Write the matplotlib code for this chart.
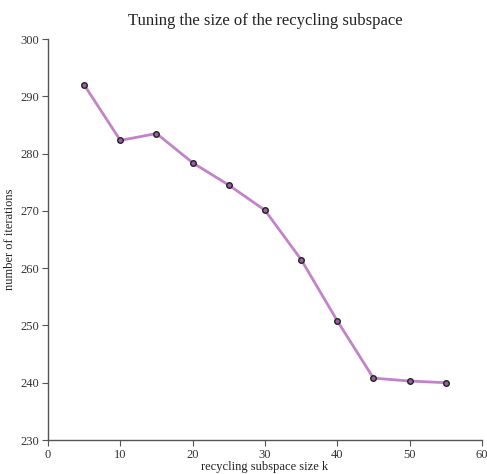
import matplotlib
matplotlib.use("Agg")
import matplotlib.pyplot as plt

plt.rcParams['font.family'] = ['Liberation Serif', 'DejaVu Serif']

k_values = [5, 10, 15, 20, 25, 30, 35, 40, 45, 50, 55]
iterations = [292.0, 282.3, 283.5, 278.4, 274.5, 270.1, 261.5, 250.8, 240.8, 240.3, 240.0]

fig = plt.figure(figsize=(4.87, 4.74), dpi=100)
ax = fig.add_axes([0.0986, 0.0717, 0.891, 0.846])

ax.plot(k_values, iterations, color='#c283c8', linewidth=2, zorder=2)
ax.plot(k_values, iterations, linestyle='none', marker='o', markersize=4,
        markerfacecolor='#9a5ea6', markeredgecolor='#222222', markeredgewidth=1, zorder=3)

ax.set_xlim(0, 60)
ax.set_ylim(230, 300)
ax.set_xticks(range(0, 61, 10))
ax.set_yticks(range(230, 301, 10))

for side in ['top', 'right']:
    ax.spines[side].set_visible(False)
for side in ['left', 'bottom']:
    ax.spines[side].set_color('#555555')
    ax.spines[side].set_linewidth(1)
ax.tick_params(colors='#555555', labelcolor='#333333', labelsize=9, length=4,
               direction='out', pad=2.5)

ax.set_title('Tuning the size of the recycling subspace', fontsize=12, pad=10, color='#222222')
ax.set_xlabel('recycling subspace size k', fontsize=9, labelpad=0, color='#222222')
ax.set_ylabel('number of iterations', fontsize=9, labelpad=3, color='#222222')

fig.savefig('out.png', dpi=100)
